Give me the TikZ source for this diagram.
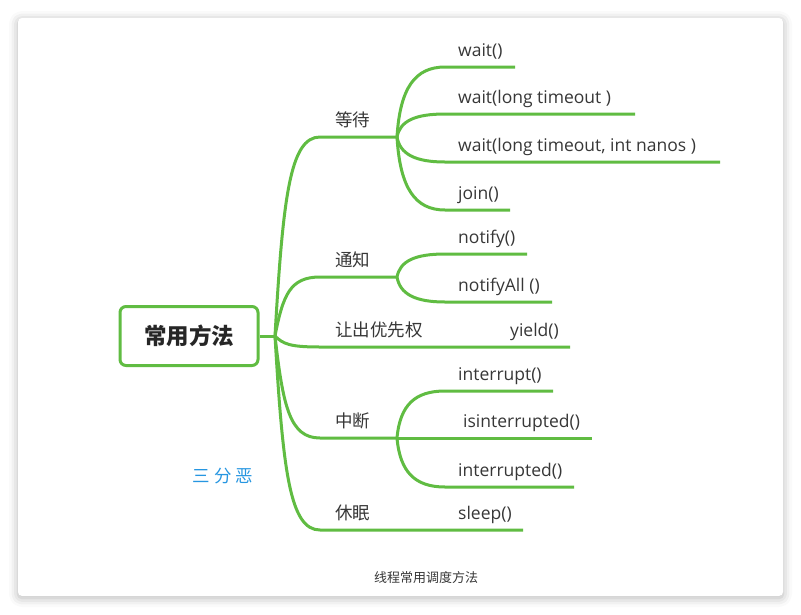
\documentclass[tikz,border=0pt]{standalone}
\usepackage{fontspec}
\setmainfont{Open Sans}
\newfontfamily\cjk{Noto Sans CJK SC}
\usetikzlibrary{shadows.blur}

\definecolor{branchgreen}{RGB}{96,188,66}
\definecolor{textgray}{RGB}{55,55,55}
\definecolor{signblue}{RGB}{38,150,225}

\tikzset{
  branch/.style={draw=branchgreen, line width=3pt},
  rootbox/.style={draw=branchgreen, line width=3pt, rounded corners=6pt, minimum width=138pt, minimum height=59pt, text=black!85, font=\cjk\bfseries\fontsize{22.5}{26}\selectfont},
  grouptext/.style={anchor=base west, inner sep=0pt, text=textgray, font=\cjk\fontsize{17.5}{20}\selectfont},
  methodtext/.style={anchor=base west, inner sep=0pt, text=textgray, font=\fontsize{17.5}{20}\selectfont},
}

\begin{document}
\begin{tikzpicture}[x=1pt,y=-1pt]

\useasboundingbox (0,0) rectangle (801,614);

% Card
\fill[white, rounded corners=4pt, blur shadow={shadow xshift=0pt, shadow yshift=-2pt, shadow blur radius=9pt, shadow opacity=30}] (18,18) rectangle (783,596);

% Root
\node[rootbox] (root) at (189,336) {常用方法};
\coordinate (hub) at (275,336);
\draw[branch] (root.east) -- (hub);

% Wait group
\coordinate (wait-s) at (320,137);
\coordinate (wait-hub) at (397,137);
\draw[branch] (hub) .. controls +(8,-139) and +(-30,0) .. (wait-s) -- (wait-hub);
\node[grouptext] (wait) at (335,126) {等待};

\coordinate (w1-s) at (445,67);
\coordinate (w1-e) at (515,67);
\coordinate (w2-s) at (445,114);
\coordinate (w2-e) at (635,114);
\coordinate (w3-s) at (445,162);
\coordinate (w3-e) at (720,162);
\coordinate (w4-s) at (445,210);
\coordinate (w4-e) at (510,210);
\draw[branch] (wait-hub) .. controls +(3,-49) and +(-30,0) .. (w1-s) -- (w1-e);
\draw[branch] (wait-hub) .. controls +(3,-16) and +(-30,0) .. (w2-s) -- (w2-e);
\draw[branch] (wait-hub) .. controls +(3,17) and +(-30,0) .. (w3-s) -- (w3-e);
\draw[branch] (wait-hub) .. controls +(3,51) and +(-30,0) .. (w4-s) -- (w4-e);
\node[methodtext] (w1) at (458,56) {wait()};
\node[methodtext] (w2) at (458,103) {wait(long timeout )};
\node[methodtext] (w3) at (458,151) {wait(long timeout, int nanos )};
\node[methodtext] (w4) at (458,199) {join()};

% Notify group
\coordinate (notify-s) at (320,277);
\coordinate (notify-hub) at (397,277);
\draw[branch] (hub) .. controls +(8,-41) and +(-30,0) .. (notify-s) -- (notify-hub);
\node[grouptext] (notify) at (335,266) {通知};

\coordinate (n1-s) at (445,254);
\coordinate (n1-e) at (527,254);
\coordinate (n2-s) at (445,302);
\coordinate (n2-e) at (552,302);
\draw[branch] (notify-hub) .. controls +(3,-16) and +(-30,0) .. (n1-s) -- (n1-e);
\draw[branch] (notify-hub) .. controls +(3,17) and +(-30,0) .. (n2-s) -- (n2-e);
\node[methodtext] (n1) at (458,243) {notify()};
\node[methodtext] (n2) at (458,291) {notifyAll ()};

% Yield
\coordinate (yield-s) at (320,347);
\coordinate (yield-e) at (570,347);
\draw[branch] (hub) .. controls +(8,8) and +(-30,0) .. (yield-s) -- (yield-e);
\node[grouptext] (yieldgroup) at (335,336) {让出优先权};
\node[methodtext] (y1) at (510,336) {yield()};

% Interrupt group
\coordinate (intr-s) at (320,438);
\coordinate (intr-hub) at (397,438);
\draw[branch] (hub) .. controls +(8,71) and +(-30,0) .. (intr-s) -- (intr-hub);
\node[grouptext] (intr) at (335,427) {中断};

\coordinate (i1-s) at (445,391);
\coordinate (i1-e) at (553,391);
\coordinate (i2-e) at (592,438);
\coordinate (i3-s) at (445,487);
\coordinate (i3-e) at (574,487);
\draw[branch] (intr-hub) .. controls +(3,-33) and +(-30,0) .. (i1-s) -- (i1-e);
\draw[branch] (intr-hub) -- (i2-e);
\draw[branch] (intr-hub) .. controls +(3,34) and +(-30,0) .. (i3-s) -- (i3-e);
\node[methodtext] (i1) at (458,380) {interrupt()};
\node[methodtext] (i2) at (463,427) {isinterrupted()};
\node[methodtext] (i3) at (458,476) {interrupted()};

% Sleep
\coordinate (sleep-s) at (320,530);
\coordinate (sleep-e) at (523,530);
\draw[branch] (hub) .. controls +(8,136) and +(-30,0) .. (sleep-s) -- (sleep-e);
\node[grouptext] (sleep) at (335,519) {休眠};
\node[methodtext] (s1) at (458,519) {sleep()};

% Signature and caption
\node[text=signblue, font=\cjk\fontsize{17.5}{20}\selectfont] (sign) at (223,476) {三\hspace{4pt}分\hspace{4pt}恶};
\node[text=textgray, font=\cjk\fontsize{13}{16}\selectfont] (caption) at (426,578) {线程常用调度方法};

\end{tikzpicture}
\end{document}
